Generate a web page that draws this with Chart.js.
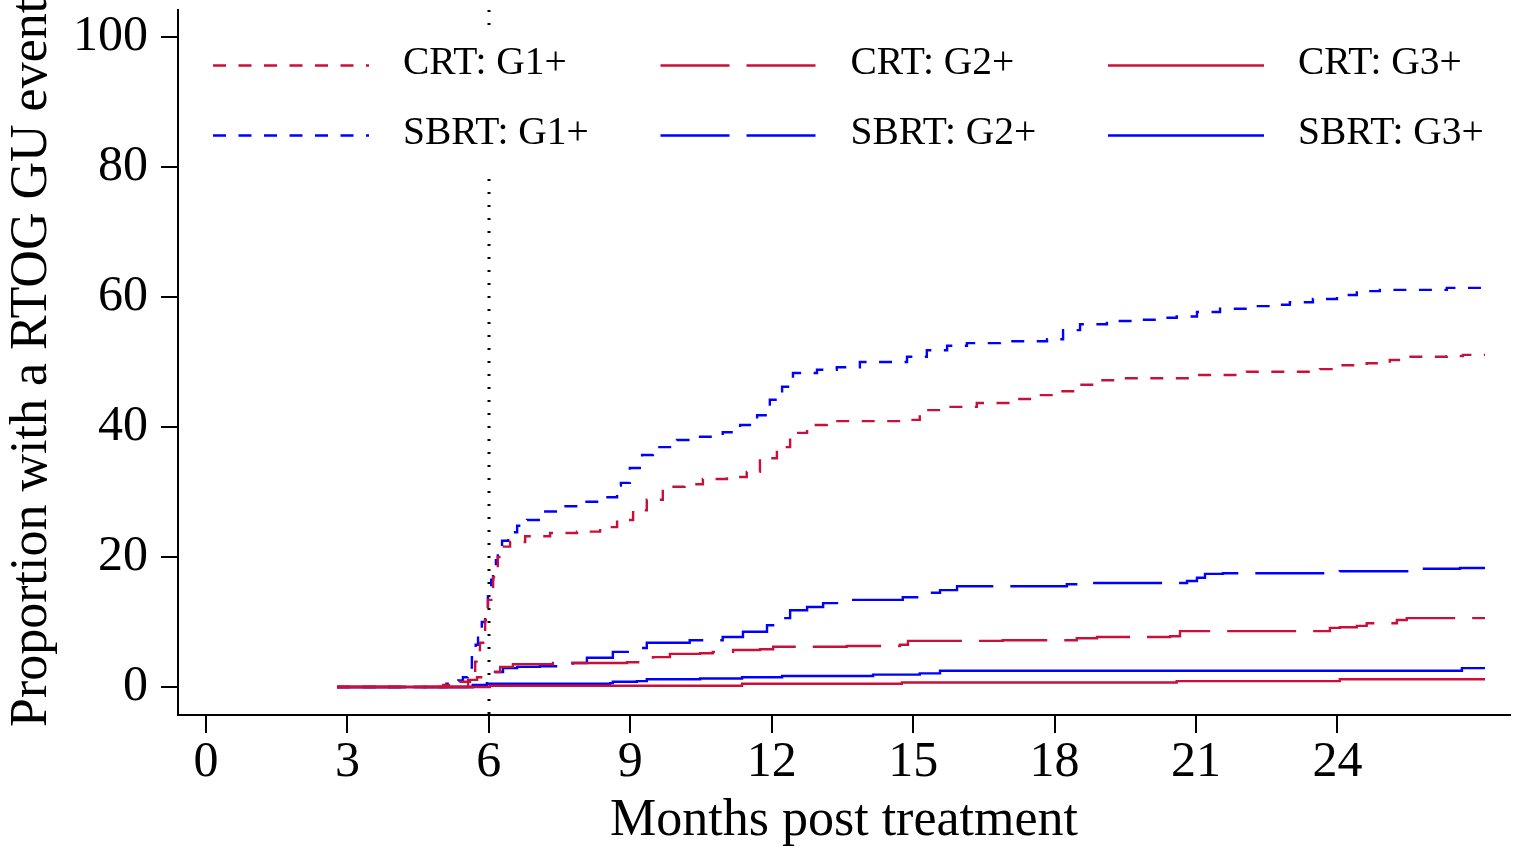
<!DOCTYPE html>
<html>
<head>
<meta charset="utf-8">
<title>RTOG GU events</title>
<script src="https://cdn.jsdelivr.net/npm/chart.js@4"></script>
<style>
  html, body { margin: 0; padding: 0; background: #fff; }
  #wrap { width: 1521px; height: 847px; position: relative; }
</style>
</head>
<body>
<div id="wrap"><canvas id="gu"></canvas></div>
<script>
// Cumulative incidence step points: month of the step, % with event after it
const crtG1Months = [2.78, 5.03, 5.34, 5.60, 5.71, 5.81, 5.92, 5.98, 6.09, 6.19, 6.28, 6.45, 6.77, 7.30, 7.87, 8.36, 8.72, 9.06, 9.35, 9.69, 10.15, 10.54, 11.05, 11.47, 11.75, 12.11, 12.39, 12.75, 13.17, 14.80, 15.14, 15.72, 16.35, 17.12, 17.62, 18.11, 18.54, 18.96, 19.38, 21.02, 22.08, 23.63, 24.11, 24.62, 25.11, 25.47, 26.32, 26.66, 27.13];
const crtG1Pct    = [0, 0.3, 0.8, 2.1, 3.9, 6.8, 10.3, 13.4, 16.9, 20.0, 21.6, 22.3, 23.2, 23.7, 23.9, 24.6, 25.7, 27.2, 28.8, 30.8, 31.2, 32.0, 32.3, 33.1, 35.2, 36.9, 39.1, 40.3, 40.9, 41.1, 42.6, 43.1, 43.7, 44.3, 44.9, 45.5, 46.5, 47.2, 47.5, 48.0, 48.5, 48.9, 49.5, 49.8, 50.3, 50.8, 50.9, 51.1, 51.1];

const crtG2Months = [2.78, 5.56, 5.75, 5.96, 6.24, 6.51, 7.36, 8.93, 9.48, 9.84, 10.48, 10.75, 11.18, 11.75, 12.03, 13.59, 14.72, 14.89, 16.90, 18.47, 18.90, 20.45, 20.66, 23.84, 24.05, 24.41, 24.62, 25.26, 25.47, 27.13];
const crtG2Pct    = [0, 1.1, 1.5, 2.3, 3.1, 3.5, 3.7, 3.8, 4.6, 5.1, 5.2, 5.4, 5.7, 5.8, 6.2, 6.3, 6.5, 7.1, 7.2, 7.5, 7.7, 7.8, 8.6, 9.1, 9.2, 9.4, 9.8, 10.3, 10.6, 10.6];

const crtG3Months = [2.78, 6.02, 11.37, 14.76, 20.59, 24.05, 27.13];
const crtG3Pct    = [0, 0.2, 0.5, 0.7, 0.9, 1.2, 1.2];

const sbrtG1Months = [2.78, 5.10, 5.35, 5.45, 5.55, 5.64, 5.72, 5.77, 5.85, 5.92, 5.98, 6.05, 6.09, 6.15, 6.19, 6.28, 6.41, 6.60, 6.81, 7.15, 7.51, 7.93, 8.42, 8.72, 8.80, 8.99, 9.25, 9.48, 9.99, 10.48, 10.96, 11.33, 11.69, 11.96, 12.22, 12.45, 12.96, 13.38, 13.87, 14.87, 15.29, 15.72, 16.14, 16.84, 17.84, 18.18, 18.54, 19.11, 19.66, 20.17, 20.59, 21.02, 21.51, 22.08, 22.57, 22.99, 23.48, 23.99, 24.41, 24.90, 26.32, 27.13];
const sbrtG1Pct    = [0, 0.5, 1.0, 1.5, 3.0, 4.6, 6.5, 8.3, 10.0, 11.8, 14.9, 16.5, 18.0, 19.5, 20.8, 22.5, 23.8, 24.8, 25.7, 27.0, 27.8, 28.5, 29.2, 31.0, 31.4, 33.7, 35.7, 36.9, 38.0, 38.5, 39.2, 40.3, 41.8, 44.2, 46.2, 48.3, 48.8, 49.2, 50.0, 50.8, 51.8, 52.5, 52.9, 53.2, 53.5, 54.9, 55.8, 56.3, 56.5, 56.8, 57.0, 57.7, 58.2, 58.6, 58.8, 59.2, 59.7, 60.3, 60.9, 61.1, 61.4, 61.4];

const sbrtG2Months = [2.78, 5.66, 5.96, 6.13, 6.30, 6.60, 7.08, 7.78, 8.08, 8.63, 9.06, 9.35, 10.26, 10.96, 11.39, 11.90, 12.17, 12.39, 12.75, 13.09, 13.66, 14.78, 15.14, 15.57, 15.93, 18.26, 18.54, 20.81, 21.02, 21.19, 21.57, 24.05, 25.54, 26.60, 27.13];
const sbrtG2Pct    = [0, 0.3, 1.5, 2.3, 2.9, 3.1, 3.2, 3.7, 4.5, 5.4, 6.0, 6.8, 7.2, 7.7, 8.5, 9.5, 10.6, 11.8, 12.3, 12.9, 13.4, 13.8, 14.5, 14.9, 15.5, 15.8, 16.0, 16.3, 16.8, 17.4, 17.5, 17.8, 18.2, 18.3, 18.3];

const sbrtG3Months = [2.78, 5.66, 5.96, 8.57, 8.63, 9.14, 9.35, 10.48, 11.37, 12.22, 14.15, 15.14, 15.57, 26.64, 27.13];
const sbrtG3Pct    = [0, 0.2, 0.5, 0.6, 0.8, 0.9, 1.2, 1.3, 1.5, 1.7, 1.9, 2.1, 2.5, 2.9, 2.9];

const seriesLabels = ['CRT: G1+', 'CRT: G2+', 'CRT: G3+', 'SBRT: G1+', 'SBRT: G2+', 'SBRT: G3+'];
const xTicks = [0, 3, 6, 9, 12, 15, 18, 21, 24];
const yTicks = [0, 20, 40, 60, 80, 100];
const landmarkMonth = 6;

const FONT = '"Liberation Serif", "Times New Roman", serif';
const RED = 'rgb(200,16,58)';
const BLUE = 'rgb(0,0,255)';
const SHORT_DASH = [13, 12.5];
const LONG_DASH = [69, 17];

function pts(months, pct) {
  return months.map((m, i) => ({ x: m, y: pct[i] }));
}

function stepSeries(label, data, color, dash) {
  return {
    label, data,
    borderColor: color,
    borderWidth: 2.4,
    borderDash: dash,
    stepped: true,
    pointRadius: 0,
    fill: false
  };
}

// vertical dotted line at the 6 month landmark
const landmarkLine = {
  id: 'landmarkLine',
  beforeDatasetsDraw(chart) {
    const { ctx, chartArea: a, scales: { x } } = chart;
    const px = Math.round(x.getPixelForValue(landmarkMonth));
    ctx.save();
    ctx.strokeStyle = '#000';
    ctx.lineWidth = 3;
    ctx.setLineDash([2, 11]);
    ctx.beginPath();
    ctx.moveTo(px, a.top);
    ctx.lineTo(px, a.bottom);
    ctx.stroke();
    ctx.restore();
  }
};

// legend drawn inside the plot, 3 columns x 2 rows, on a white box
const innerLegend = {
  id: 'innerLegend',
  afterDraw(chart) {
    const ctx = chart.ctx;
    ctx.save();
    ctx.fillStyle = '#fff';
    ctx.fillRect(192, 26, 1312, 149);
    chart.data.datasets.forEach((ds, i) => {
      const col = i % 3, row = Math.floor(i / 3);
      const x0 = 213 + col * 447.5;
      const y = 65.5 + row * 70;
      ctx.strokeStyle = ds.borderColor;
      ctx.lineWidth = ds.borderWidth;
      ctx.setLineDash(ds.borderDash);
      ctx.beginPath();
      ctx.moveTo(x0, y);
      ctx.lineTo(x0 + 156, y);
      ctx.stroke();
      ctx.setLineDash([]);
      ctx.fillStyle = '#000';
      ctx.font = '39.5px ' + FONT;
      ctx.textAlign = 'left';
      ctx.textBaseline = 'alphabetic';
      ctx.fillText(ds.label, x0 + 190, y + 8.5);
    });
    ctx.restore();
  }
};

// y title is longer than the plot height, so draw it by hand
const yTitle = {
  id: 'yTitle',
  afterDraw(chart) {
    const ctx = chart.ctx;
    ctx.save();
    ctx.translate(46, 727);
    ctx.rotate(-Math.PI / 2);
    ctx.fillStyle = '#000';
    ctx.font = '52px ' + FONT;
    ctx.textAlign = 'left';
    ctx.textBaseline = 'alphabetic';
    ctx.fillText('Proportion with a RTOG GU events', 0, 0);
    ctx.restore();
  }
};

const datasets = [
  stepSeries(seriesLabels[0], pts(crtG1Months, crtG1Pct), RED, SHORT_DASH),
  stepSeries(seriesLabels[1], pts(crtG2Months, crtG2Pct), RED, LONG_DASH),
  stepSeries(seriesLabels[2], pts(crtG3Months, crtG3Pct), RED, []),
  stepSeries(seriesLabels[3], pts(sbrtG1Months, sbrtG1Pct), BLUE, SHORT_DASH),
  stepSeries(seriesLabels[4], pts(sbrtG2Months, sbrtG2Pct), BLUE, LONG_DASH),
  stepSeries(seriesLabels[5], pts(sbrtG3Months, sbrtG3Pct), BLUE, [])
];

new Chart(document.getElementById('gu'), {
  type: 'line',
  data: { datasets },
  plugins: [landmarkLine, innerLegend, yTitle],
  options: {
    responsive: true,
    maintainAspectRatio: false,
    animation: false,
    layout: { padding: { top: 10, right: 11, left: 0, bottom: 0 } },
    plugins: { legend: { display: false }, tooltip: { enabled: false } },
    scales: {
      x: {
        type: 'linear',
        min: -0.594,
        max: 27.66,
        afterBuildTicks: s => { s.ticks = xTicks.map(v => ({ value: v })); },
        afterFit: s => { s.height = 132; s.paddingLeft = 0; s.paddingRight = 0; },
        grid: { drawOnChartArea: false, tickLength: 18, color: '#000', lineWidth: 2 },
        border: { color: '#000', width: 2 },
        ticks: { color: '#000', font: { family: FONT, size: 50 }, padding: 0, maxRotation: 0, autoSkip: false },
        title: { display: true, text: 'Months post treatment', color: '#000', font: { family: FONT, size: 52, lineHeight: 1.0 }, padding: 0 }
      },
      y: {
        type: 'linear',
        min: -4.31,
        max: 104.15,
        afterBuildTicks: s => { s.ticks = yTicks.map(v => ({ value: v })); },
        afterFit: s => { s.width = 178; s.paddingTop = 0; s.paddingBottom = 0; },
        grid: { drawOnChartArea: false, tickLength: 17, color: '#000', lineWidth: 2 },
        border: { color: '#000', width: 2 },
        ticks: { color: '#000', font: { family: FONT, size: 50 }, padding: 13 }
      }
    }
  }
});
</script>
</body>
</html>
